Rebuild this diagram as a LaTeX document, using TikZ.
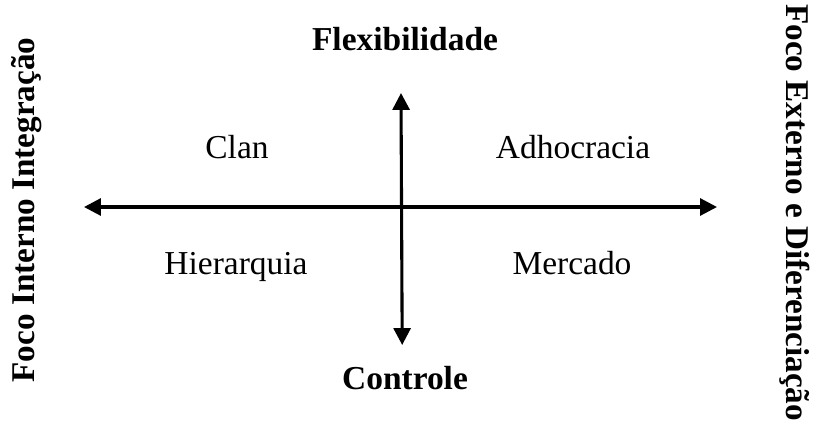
\documentclass[tikz,border=0pt]{standalone}
\usepackage{fontspec}
\setmainfont{Liberation Serif}
\usetikzlibrary{arrows.meta}
\tikzset{
  axis/.style={{Triangle[length=0.42cm,width=0.42cm]}-{Triangle[length=0.42cm,width=0.42cm]},line width=2.2pt},
  quad/.style={anchor=base,font=\fontsize{23.8}{28}\selectfont},
  pole/.style={anchor=base,font=\fontsize{23.8}{28}\selectfont\bfseries},
  side/.style={font=\fontsize{23.6}{28}\selectfont\bfseries}
}
\begin{document}
\begin{tikzpicture}
\useasboundingbox (-10.025,5.175) rectangle (10.425,-5.875);
\coordinate (w) at (-7.925,0);
\coordinate (e) at (7.9,0);
\coordinate (n) at (0,2.85);
\coordinate (s) at (0.03,-3.45);
\draw[axis] (w) -- (e);
\draw[axis] (n) -- (s);

\node[pole] (flex) at (0.1,3.925) {Flexibilidade};
\node[pole] (ctrl) at (0.1,-4.55) {Controle};

\node[quad] (clan) at (-4.1,1.225) {Clan};
\node[quad] (adho) at (4.3,1.225) {Adhocracia};
\node[quad] (hier) at (-4.125,-1.675) {Hierarquia};
\node[quad] (merc) at (4.275,-1.675) {Mercado};

\node[side,rotate=90] (inter) at (-9.35,-0.075) {Foco Interno Integração};
\node[side,rotate=-90] (exter) at (9.85,-0.14) {Foco Externo e Diferenciação};
\end{tikzpicture}
\end{document}
